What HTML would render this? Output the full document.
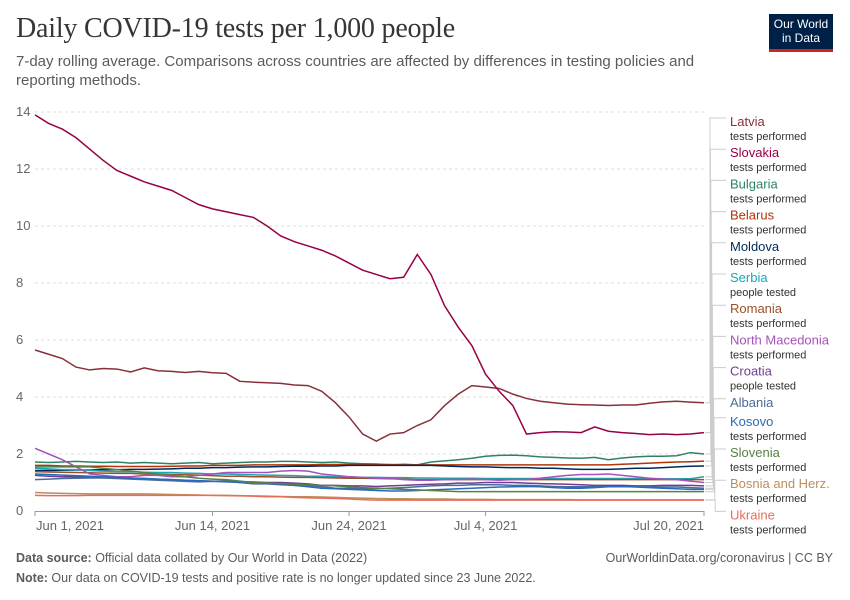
<!DOCTYPE html>
<html><head><meta charset="utf-8">
<style>
body{margin:0;background:#fff;font-family:"Liberation Sans",sans-serif;}
#wrap{position:relative;width:850px;height:600px;overflow:hidden;}
h1{position:absolute;left:16px;top:13px;margin:0;font-family:"Liberation Serif",serif;font-size:28px;font-weight:normal;color:#363636;letter-spacing:-0.2px;}
.sub{position:absolute;left:16px;top:52px;width:690px;font-size:15px;line-height:19px;color:#5b5b5b;}
.logo{position:absolute;left:769px;top:14px;width:64px;height:38px;background:#002147;border-bottom:3px solid #ce261e;color:#fff;font-size:12px;line-height:14px;text-align:center;padding-top:3px;box-sizing:border-box;}
.foot{position:absolute;font-size:12.5px;color:#5b5b5b;}
</style></head><body>
<div id="wrap">
<h1>Daily COVID-19 tests per 1,000 people</h1>
<div class="sub">7-day rolling average. Comparisons across countries are affected by differences in testing policies and reporting methods.</div>
<div class="logo">Our World<br>in Data</div>
<svg id="chart" width="850" height="600" style="position:absolute;left:0;top:0"></svg>
<div class="foot" style="left:16px;top:551px"><b>Data source:</b> Official data collated by Our World in Data (2022)</div>
<div class="foot" style="right:17px;top:551px">OurWorldinData.org/coronavirus | CC BY</div>
<div class="foot" style="left:16px;top:571px"><b>Note:</b> Our data on COVID-19 tests and positive rate is no longer updated since 23 June 2022.</div>
</div>
<script>
const yTicks=[0,2,4,6,8,10,12,14];
const xTickDays=[0,13,23,33,49];
const xTickLabels=["Jun 1, 2021","Jun 14, 2021","Jun 24, 2021","Jul 4, 2021","Jul 20, 2021"];
const names=["Latvia","Slovakia","Bulgaria","Belarus","Moldova","Serbia","Romania","North Macedonia","Croatia","Albania","Kosovo","Slovenia","Bosnia and Herz.","Ukraine"];
const subs=["tests performed","tests performed","tests performed","tests performed","tests performed","people tested","tests performed","tests performed","people tested","","tests performed","tests performed","tests performed","tests performed"];
const colors=["#883039","#970046","#2c8465","#b13507","#00295b","#18a7b6","#9a5129","#a652ba","#6d3e91","#4c6a9c","#286bbb","#578145","#bc8e5a","#e56e5a"];
const latvia=[5.65,5.5,5.35,5.05,4.95,5.0,4.98,4.88,5.02,4.92,4.9,4.86,4.9,4.85,4.83,4.55,4.52,4.5,4.48,4.42,4.4,4.2,3.8,3.3,2.7,2.45,2.7,2.75,3.0,3.2,3.7,4.1,4.4,4.35,4.3,4.1,3.95,3.85,3.8,3.75,3.73,3.72,3.7,3.72,3.72,3.78,3.83,3.85,3.82,3.8];
const slovakia=[13.9,13.6,13.4,13.1,12.7,12.3,11.95,11.75,11.55,11.4,11.25,11.0,10.75,10.6,10.5,10.4,10.3,10.0,9.65,9.45,9.3,9.15,8.95,8.7,8.45,8.3,8.15,8.2,9.0,8.3,7.2,6.45,5.8,4.8,4.2,3.7,2.7,2.75,2.78,2.77,2.75,2.95,2.8,2.75,2.72,2.68,2.7,2.68,2.7,2.75];
const bulgaria=[1.72,1.7,1.72,1.74,1.72,1.7,1.72,1.68,1.7,1.68,1.66,1.68,1.7,1.66,1.68,1.7,1.72,1.72,1.74,1.74,1.72,1.7,1.72,1.68,1.66,1.65,1.62,1.64,1.62,1.72,1.76,1.8,1.85,1.92,1.95,1.96,1.94,1.9,1.88,1.86,1.85,1.88,1.8,1.86,1.9,1.92,1.92,1.94,2.05,2.0];
const belarus=[1.6,1.6,1.58,1.58,1.57,1.57,1.56,1.56,1.56,1.56,1.57,1.58,1.58,1.6,1.6,1.6,1.62,1.62,1.62,1.62,1.62,1.63,1.63,1.63,1.63,1.63,1.63,1.62,1.62,1.62,1.62,1.62,1.62,1.62,1.62,1.62,1.62,1.62,1.62,1.62,1.62,1.62,1.62,1.64,1.66,1.68,1.7,1.72,1.73,1.75];
const moldova=[1.42,1.42,1.43,1.44,1.44,1.45,1.45,1.46,1.46,1.47,1.48,1.5,1.5,1.52,1.52,1.54,1.55,1.55,1.56,1.57,1.57,1.58,1.58,1.6,1.6,1.6,1.6,1.6,1.6,1.6,1.58,1.56,1.55,1.55,1.53,1.52,1.52,1.5,1.5,1.48,1.46,1.46,1.46,1.48,1.5,1.5,1.52,1.55,1.57,1.58];
const serbia=[1.5,1.48,1.45,1.45,1.42,1.4,1.38,1.38,1.36,1.35,1.35,1.33,1.32,1.3,1.3,1.28,1.27,1.26,1.25,1.24,1.22,1.22,1.2,1.2,1.18,1.18,1.17,1.17,1.16,1.16,1.15,1.15,1.15,1.14,1.14,1.14,1.14,1.14,1.14,1.14,1.14,1.14,1.14,1.14,1.14,1.14,1.13,1.13,1.13,1.2];
const romania=[1.38,1.37,1.36,1.35,1.34,1.33,1.32,1.32,1.3,1.3,1.28,1.27,1.26,1.24,1.22,1.22,1.2,1.2,1.19,1.18,1.18,1.17,1.16,1.15,1.15,1.14,1.13,1.12,1.1,1.1,1.1,1.1,1.1,1.1,1.1,1.1,1.1,1.1,1.1,1.1,1.1,1.1,1.1,1.1,1.1,1.1,1.1,1.1,1.1,1.1];
const macedonia=[2.2,2.0,1.8,1.55,1.3,1.25,1.2,1.2,1.25,1.25,1.2,1.2,1.25,1.3,1.35,1.35,1.35,1.35,1.4,1.42,1.4,1.3,1.25,1.2,1.18,1.15,1.15,1.1,1.08,1.08,1.1,1.1,1.12,1.1,1.08,1.1,1.1,1.15,1.2,1.25,1.28,1.28,1.3,1.25,1.2,1.15,1.12,1.1,1.05,1.0];
const croatia=[1.25,1.22,1.2,1.2,1.18,1.18,1.16,1.15,1.14,1.12,1.1,1.08,1.06,1.05,1.04,1.02,1.02,1.0,1.0,0.98,0.95,0.9,0.9,0.88,0.88,0.86,0.88,0.9,0.92,0.94,0.95,0.98,0.98,1.0,1.0,1.0,0.98,0.96,0.95,0.94,0.92,0.9,0.9,0.9,0.88,0.88,0.9,0.9,0.9,0.88];
const albania=[1.1,1.12,1.14,1.15,1.16,1.16,1.14,1.12,1.1,1.08,1.06,1.04,1.02,1.04,1.06,1.0,0.95,0.95,0.92,0.9,0.88,0.85,0.8,0.8,0.78,0.78,0.8,0.82,0.85,0.88,0.9,0.9,0.92,0.92,0.92,0.9,0.9,0.88,0.86,0.85,0.85,0.85,0.85,0.85,0.85,0.85,0.84,0.84,0.82,0.8];
const kosovo=[1.3,1.28,1.26,1.24,1.22,1.2,1.18,1.16,1.14,1.12,1.1,1.08,1.06,1.04,1.02,1.0,1.0,0.98,0.95,0.9,0.85,0.8,0.78,0.76,0.74,0.72,0.7,0.7,0.72,0.74,0.76,0.78,0.8,0.82,0.84,0.85,0.86,0.85,0.82,0.8,0.8,0.82,0.85,0.86,0.84,0.82,0.8,0.78,0.76,0.76];
const slovenia=[1.55,1.55,1.55,1.55,1.55,1.5,1.45,1.4,1.35,1.3,1.25,1.2,1.15,1.12,1.1,1.05,1.0,0.98,0.96,0.94,0.92,0.9,0.88,0.85,0.82,0.8,0.78,0.76,0.74,0.72,0.7,0.68,0.68,0.68,0.68,0.68,0.68,0.68,0.68,0.68,0.68,0.68,0.68,0.68,0.68,0.68,0.68,0.68,0.68,0.68];
const bosnia=[0.65,0.63,0.62,0.61,0.6,0.6,0.6,0.6,0.6,0.59,0.58,0.57,0.56,0.55,0.55,0.54,0.53,0.52,0.51,0.5,0.5,0.49,0.48,0.46,0.45,0.44,0.43,0.43,0.42,0.42,0.42,0.41,0.41,0.41,0.4,0.4,0.4,0.4,0.4,0.4,0.39,0.39,0.39,0.39,0.39,0.39,0.39,0.39,0.39,0.39];
const ukraine=[0.55,0.54,0.54,0.54,0.55,0.55,0.55,0.55,0.55,0.55,0.55,0.55,0.55,0.55,0.54,0.53,0.52,0.5,0.5,0.48,0.46,0.45,0.44,0.42,0.4,0.38,0.38,0.38,0.38,0.38,0.38,0.38,0.38,0.38,0.38,0.38,0.38,0.38,0.38,0.38,0.38,0.38,0.38,0.38,0.38,0.38,0.38,0.38,0.38,0.38];
const series=[latvia,slovakia,bulgaria,belarus,moldova,serbia,romania,macedonia,croatia,albania,kosovo,slovenia,bosnia,ukraine];

const NS="http://www.w3.org/2000/svg";
const svg=document.getElementById('chart');
const X0=35,X1=704,Y0=511,Y1=112,YMAX=14,DAYS=49;
function xs(d){return X0+(X1-X0)*d/DAYS;}
function ys(v){return Y0-(Y0-Y1)*v/YMAX;}
function mk(t,a,p){const e=document.createElementNS(NS,t);for(const k in a)e.setAttribute(k,a[k]);(p||svg).appendChild(e);return e;}
yTicks.forEach(v=>{
  if(v>0){const g=mk('line',{x1:X0,x2:X1,y1:ys(v),y2:ys(v),stroke:'#ddd','stroke-dasharray':'3,3'});
  
  }
  const t=mk('text',{x:16,y:ys(v)+4,'font-size':13,fill:'#666'});t.textContent=v;
  
  
});
const ax=mk('line',{x1:X0,x2:X1,y1:Y0+0.5,y2:Y0+0.5,stroke:'#999'});


xTickDays.forEach((d,i)=>{
  const tk=mk('line',{x1:xs(d),x2:xs(d),y1:Y0,y2:Y0+5,stroke:'#999'});
  
  
  const anchor=i===0?'start':(i===xTickDays.length-1?'end':'middle');
  const t=mk('text',{x:xs(d)+(i===0?1:0),y:Y0+19,'font-size':13,fill:'#666','text-anchor':anchor});t.textContent=xTickLabels[i];
  
  
});
series.forEach((s,i)=>{
  const p=mk('polyline',{points:s.map((v,d)=>xs(d)+','+ys(v)).join(' '),fill:'none',stroke:colors[i],'stroke-width':1.5});
  
  
});
// legend
let ly=122;
names.forEach((n,i)=>{
  const end=ys(series[i][DAYS]);
  const cx=710+i*0.4;
  const c=mk('polyline',{points:(X1+1)+','+end+' '+cx+','+end+' '+cx+','+(ly-4)+' '+726+','+(ly-4),fill:'none',stroke:'#ccc','stroke-width':1});
  
  
  const t=mk('text',{x:730,y:ly+4,'font-size':13,fill:colors[i]});t.textContent=n;
  
  
  if(subs[i]){const s=mk('text',{x:730,y:ly+18,'font-size':11,fill:'#333'});s.textContent=subs[i];
  
  }
  ly+=subs[i]?31.2:19;
});
</script>
</body></html>
